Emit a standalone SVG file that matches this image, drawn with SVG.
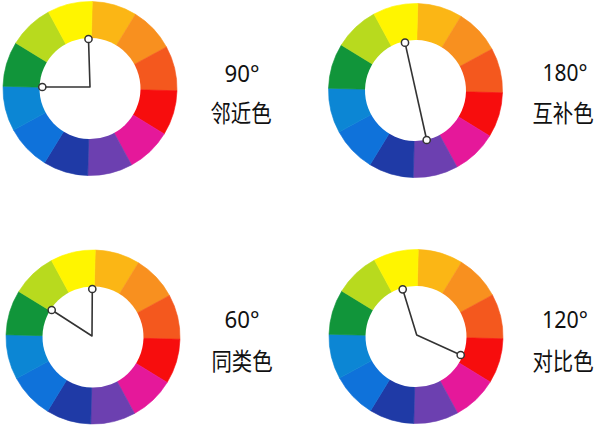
<svg xmlns="http://www.w3.org/2000/svg" xmlns:xlink="http://www.w3.org/1999/xlink" width="600" height="426" viewBox="0 0 600 426">
<style>
.s{stroke-width:0.6}
.ln{fill:none;stroke:#333;stroke-width:1.6;stroke-linejoin:round}
.dot{fill:#fff;stroke:#333;stroke-width:1.5}
.deg{font-family:"Noto Sans","Noto Sans CJK SC",sans-serif;font-size:24px;fill:#111;text-anchor:middle}
.cn{font-family:"Noto Sans CJK SC",sans-serif;font-size:24px;fill:#111;text-anchor:middle}
</style>
<defs>
<g id="wheel">
<path class="s" fill="#FBB615" stroke="#FBB615" d="M0 0L0 -87A87 87 0 0 1 43.5 -75.34Z"/>
<path class="s" fill="#F8901F" stroke="#F8901F" d="M0 0L43.5 -75.34A87 87 0 0 1 75.34 -43.5Z"/>
<path class="s" fill="#F4581E" stroke="#F4581E" d="M0 0L75.34 -43.5A87 87 0 0 1 87 0Z"/>
<path class="s" fill="#F70D0D" stroke="#F70D0D" d="M0 0L87 0A87 87 0 0 1 75.34 43.5Z"/>
<path class="s" fill="#E5189A" stroke="#E5189A" d="M0 0L75.34 43.5A87 87 0 0 1 43.5 75.34Z"/>
<path class="s" fill="#6C40B0" stroke="#6C40B0" d="M0 0L43.5 75.34A87 87 0 0 1 0 87Z"/>
<path class="s" fill="#1F3AA6" stroke="#1F3AA6" d="M0 0L0 87A87 87 0 0 1 -43.5 75.34Z"/>
<path class="s" fill="#0F72DA" stroke="#0F72DA" d="M0 0L-43.5 75.34A87 87 0 0 1 -75.34 43.5Z"/>
<path class="s" fill="#0C86D4" stroke="#0C86D4" d="M0 0L-75.34 43.5A87 87 0 0 1 -87 0Z"/>
<path class="s" fill="#11953A" stroke="#11953A" d="M0 0L-87 0A87 87 0 0 1 -75.34 -43.5Z"/>
<path class="s" fill="#B8DA1E" stroke="#B8DA1E" d="M0 0L-75.34 -43.5A87 87 0 0 1 -43.5 -75.34Z"/>
<path class="s" fill="#FFF500" stroke="#FFF500" d="M0 0L-43.5 -75.34A87 87 0 0 1 0 -87Z"/>
<circle r="50.5" fill="#fff"/>
</g>
</defs>
<rect width="600" height="426" fill="#fff"/>

<g id="wheel-90">
<use xlink:href="#wheel" href="#wheel" transform="translate(90 88.5) rotate(1.5)"/>
</g>
<g id="wheel-180">
<use xlink:href="#wheel" href="#wheel" transform="translate(415.5 90.5) rotate(1.5)"/>
</g>
<g id="wheel-60">
<use xlink:href="#wheel" href="#wheel" transform="translate(93 337) rotate(1.5)"/>
</g>
<g id="wheel-120">
<use xlink:href="#wheel" href="#wheel" transform="translate(416 336.5) rotate(1.5)"/>
</g>

<g id="connectors">
<polyline class="ln" points="88.5,39 90,87 42.3,87"/>
<line class="ln" x1="405" y1="42.7" x2="426.7" y2="140"/>
<polyline class="ln" points="92.3,289 92,336 51.7,310"/>
<polyline class="ln" points="402.7,289.3 416.7,335 460.7,355"/>
<circle class="dot" cx="88.5" cy="39" r="3.6"/>
<circle class="dot" cx="42.3" cy="87" r="3.6"/>
<circle class="dot" cx="405" cy="42.7" r="3.6"/>
<circle class="dot" cx="426.7" cy="140" r="3.6"/>
<circle class="dot" cx="92.3" cy="289" r="3.6"/>
<circle class="dot" cx="51.7" cy="310" r="3.6"/>
<circle class="dot" cx="402.7" cy="289.3" r="3.6"/>
<circle class="dot" cx="460.7" cy="355" r="3.6"/>
</g>

<g id="label-90">
<text class="deg" x="242" y="82" textLength="35" lengthAdjust="spacingAndGlyphs">90°</text>
<text class="cn" transform="translate(241 122) scale(0.85 1)">邻近色</text>
</g>
<g id="label-180">
<text class="deg" x="565" y="81" textLength="45" lengthAdjust="spacingAndGlyphs">180°</text>
<text class="cn" transform="translate(563 122) scale(0.85 1)">互补色</text>
</g>
<g id="label-60">
<text class="deg" x="242" y="328" textLength="35" lengthAdjust="spacingAndGlyphs">60°</text>
<text class="cn" transform="translate(242 370) scale(0.85 1)">同类色</text>
</g>
<g id="label-120">
<text class="deg" x="565" y="328" textLength="46" lengthAdjust="spacingAndGlyphs">120°</text>
<text class="cn" transform="translate(563 370) scale(0.85 1)">对比色</text>
</g>
</svg>
